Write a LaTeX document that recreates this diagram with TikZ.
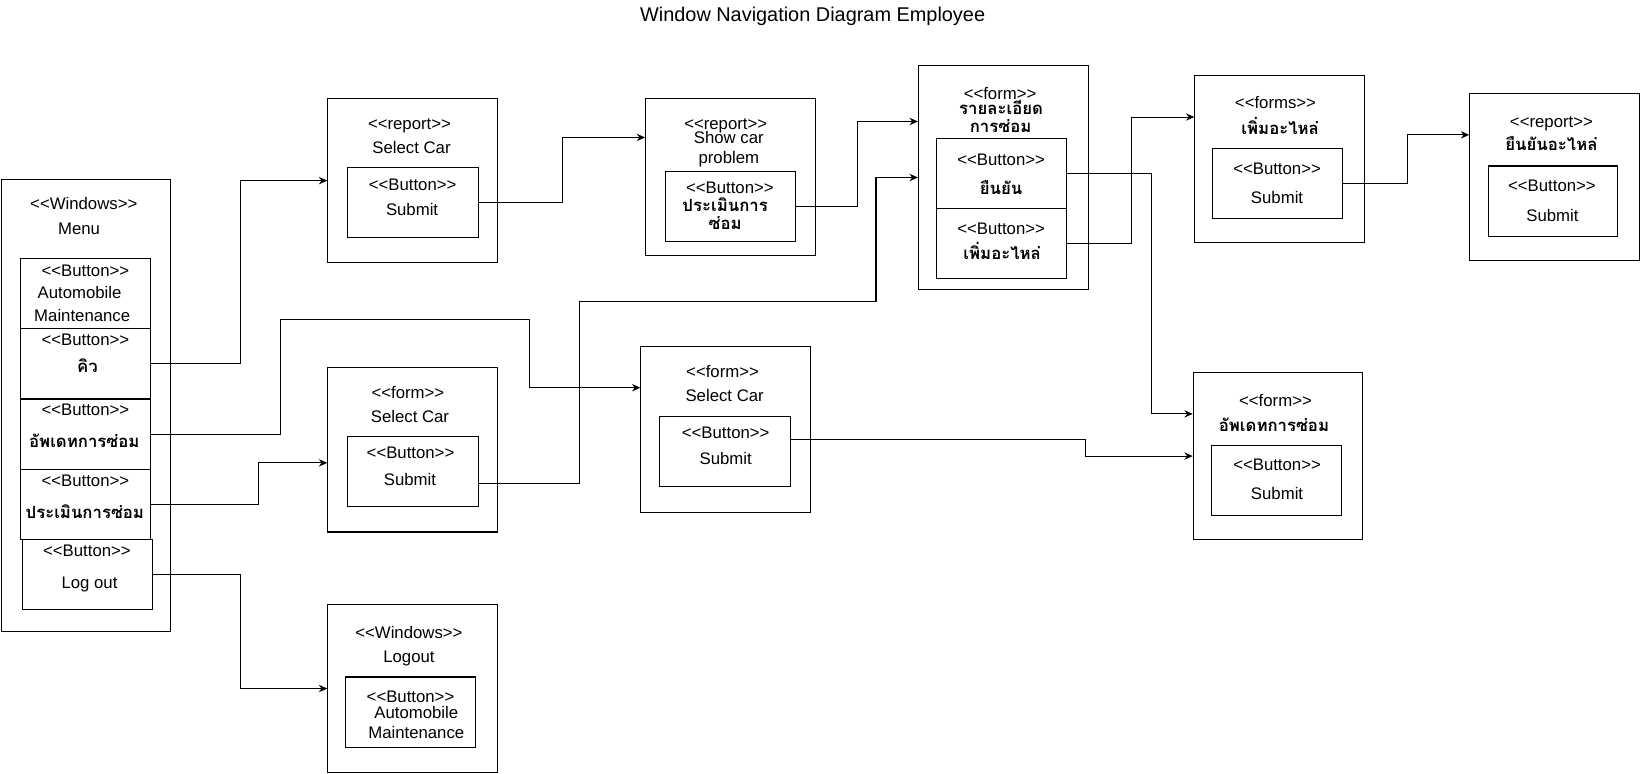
\documentclass[tikz,border=0pt]{standalone}
\usepackage{fontspec}
\setmainfont{Liberation Sans}
\newfontfamily\thaifont[Script=Thai]{Loma}
\usetikzlibrary{arrows.meta,calc}
\newcommand{\thaitxt}[1]{{\thaifont\bfseries #1}}
\newcommand{\stereo}[1]{<\kern0pt<#1>\kern0pt>}

\begin{document}
\begin{tikzpicture}[x=1pt,y=-1pt]
\tikzset{pane/.style 2 args={draw,line width=1pt,inner sep=0pt,minimum width=#1pt,minimum height=#2pt},
lbl/.style={inner sep=0pt,text height=11.5pt,text depth=0pt,font=\fontsize{16}{19}\selectfont},
nav/.style={line width=1pt,-{Stealth[length=8pt,width=7pt]}}}
\useasboundingbox (0,0) rectangle (1568,739);

\node[lbl,text height=13.6pt,font=\fontsize{19}{22}\selectfont] (title) at (776,14) {Window Navigation Diagram Employee};

\node[pane={162}{432}] (menu) at (82,387) {};
\node[lbl] (menuA) at (80,194) {\stereo{Windows}};
\node[lbl] (menuB) at (75.5,218) {Menu};
\node[pane={124}{67}] (m1) at (81.5,280.5) {};
\node[lbl] (m1A) at (81.5,258) {\stereo{Button}};
\node[lbl] (m1B) at (76,279) {Automobile};
\node[lbl] (m1C) at (78.5,301) {Maintenance};
\node[pane={124}{67}] (m2) at (81.5,347.5) {};
\node[lbl] (m2A) at (81.5,324) {\stereo{Button}};
\node[lbl] (m2B) at (83.5,350) {\thaitxt{คิว}};
\node[pane={124}{67}] (m3) at (81.5,414.5) {};
\node[lbl] (m3A) at (81.5,391) {\stereo{Button}};
\node[lbl] (m3B) at (80.5,422) {\thaitxt{อัพเดทการซ่อม}};
\node[pane={124}{67}] (m4) at (81.5,481.5) {};
\node[lbl] (m4A) at (81.5,459) {\stereo{Button}};
\node[lbl] (m4B) at (81,489) {\thaitxt{ประเมินการซ่อม}};
\node[pane={124}{67}] (m5) at (83.5,548.5) {};
\node[lbl] (m5A) at (83,526) {\stereo{Button}};
\node[lbl] (m5B) at (85.5,556.5) {Log out};

\node[pane={162}{157}] (rsel) at (394,172.5) {};
\node[lbl] (rselA) at (391,117.5) {\stereo{report}};
\node[lbl] (rselB) at (393,141) {Select Car};
\node[pane={125}{67}] (rselb) at (394.5,193) {};
\node[lbl] (rselbA) at (394,176) {\stereo{Button}};
\node[lbl] (rselbB) at (393.5,200.5) {Submit};

\node[pane={162}{150}] (scar) at (697.5,169) {};
\node[lbl] (scarA) at (693,117.5) {\stereo{report}};
\node[lbl] (scarB) at (696,131) {Show car};
\node[lbl] (scarC) at (696,150) {problem};
\node[pane={124}{67}] (scarb) at (697.5,197.5) {};
\node[lbl] (scarbA) at (697,179) {\stereo{Button}};
\node[lbl] (scarbB) at (692.5,196.5) {\thaitxt{ประเมินการ}};
\node[lbl] (scarbC) at (692.5,213.5) {\thaitxt{ซ่อม}};

\node[pane={162}{213}] (det) at (958,169.5) {};
\node[lbl] (detA) at (955,89) {\stereo{form}};
\node[lbl] (detB) at (956,103.5) {\thaitxt{รายละเอียด}};
\node[lbl] (detC) at (955.5,121) {\thaitxt{การซ่อม}};
\node[pane={124}{67}] (detb1) at (956.5,165.5) {};
\node[lbl] (detb1A) at (956,152) {\stereo{Button}};
\node[lbl] (detb1B) at (956,180) {\thaitxt{ยืนยัน}};
\node[pane={124}{67}] (detb2) at (956.5,232.5) {};
\node[lbl] (detb2A) at (956,218) {\stereo{Button}};
\node[lbl] (detb2B) at (957,242) {\thaitxt{เพิ่มอะไหล่}};

\node[pane={162}{160}] (addp) at (1222,152) {};
\node[lbl] (addpA) at (1218,98) {\stereo{forms}};
\node[lbl] (addpB) at (1222.5,122.5) {\thaitxt{เพิ่มอะไหล่}};
\node[pane={124}{67}] (addpb) at (1220,175) {};
\node[lbl] (addpbA) at (1219.5,160.5) {\stereo{Button}};
\node[lbl] (addpbB) at (1219.5,189) {Submit};

\node[pane={162}{160}] (conf) at (1484.5,169) {};
\node[lbl] (confA) at (1481.5,116) {\stereo{report}};
\node[lbl] (confB) at (1481.5,138) {\thaitxt{ยืนยันอะไหล่}};
\node[pane={124}{67}] (confb) at (1483,192) {};
\node[lbl] (confbA) at (1482,177.5) {\stereo{Button}};
\node[lbl] (confbB) at (1482.5,206) {Submit};

\node[pane={162}{157}] (lfsel) at (394,429.5) {};
\node[lbl] (lfselA) at (389.5,375) {\stereo{form}};
\node[lbl] (lfselB) at (391.5,397.5) {Select Car};
\node[pane={125}{67}] (lfselb) at (394,450.5) {};
\node[lbl] (lfselbA) at (392,432) {\stereo{Button}};
\node[lbl] (lfselbB) at (391.5,458) {Submit};

\node[pane={162}{158}] (mfsel) at (693,410) {};
\node[lbl] (mfselA) at (690,355) {\stereo{form}};
\node[lbl] (mfselB) at (692,378) {Select Car};
\node[pane={125}{67}] (mfselb) at (692.5,431) {};
\node[lbl] (mfselbA) at (693,413) {\stereo{Button}};
\node[lbl] (mfselbB) at (693,438) {Submit};

\node[pane={162}{160}] (upd) at (1220.5,435.5) {};
\node[lbl] (updA) at (1218,382) {\stereo{form}};
\node[lbl] (updB) at (1216.5,406) {\thaitxt{อัพเดทการซ่อม}};
\node[pane={124}{67}] (updb) at (1219,458.5) {};
\node[lbl] (updbA) at (1219.5,444) {\stereo{Button}};
\node[lbl] (updbB) at (1219.5,471) {Submit};

\node[pane={162}{160}] (logo) at (394,657.5) {};
\node[lbl] (logoA) at (390.5,604) {\stereo{Windows}};
\node[lbl] (logoB) at (390.5,627) {Logout};
\node[pane={125}{67}] (logob) at (392,680) {};
\node[lbl] (logobA) at (392,665) {\stereo{Button}};
\node[lbl] (logobB) at (397.5,680.5) {Automobile};
\node[lbl] (logobC) at (397.5,699.5) {Maintenance};

\draw[nav] (m2.east) -- ++(85.5,0) |- (rsel.west);
\draw[nav] (m3.east) -- ++(123.5,0) -- ++(0,-109.5) -- ++(238,0) |- ($(mfsel.north west)!.25!(mfsel.south west)$);
\draw[nav] (m4.east) -- ++(102.5,0) |- ([yshift=-12.5pt]lfsel.west);
\draw[nav] (m5.east) -- ++(84,0) |- (logo.west);
\draw[nav] (rselb.east) -- ++(80,0) |- ($(scar.north west)!.25!(scar.south west)$);
\draw[nav] (scarb.east) -- ++(58.5,0) |- ($(det.north west)!.25!(det.south west)$);
\draw[nav] ([yshift=-11.5pt]lfselb.east) -- ++(96.5,0) -- ++(0,-174) -- ++(283,0) |- (det.west);
\draw[nav] (detb1.east) -- ++(80.5,0) |- ($(upd.north west)!.25!(upd.south west)$);
\draw[nav] (detb2.east) -- ++(61.5,0) |- ($(addp.north west)!.25!(addp.south west)$);
\draw[nav] (addpb.east) -- ++(62,0) |- ($(conf.north west)!.25!(conf.south west)$);
\draw[nav] ([yshift=11pt]mfselb.east) -- ++(281.5,0) |- (upd.west);
\end{tikzpicture}
\end{document}
